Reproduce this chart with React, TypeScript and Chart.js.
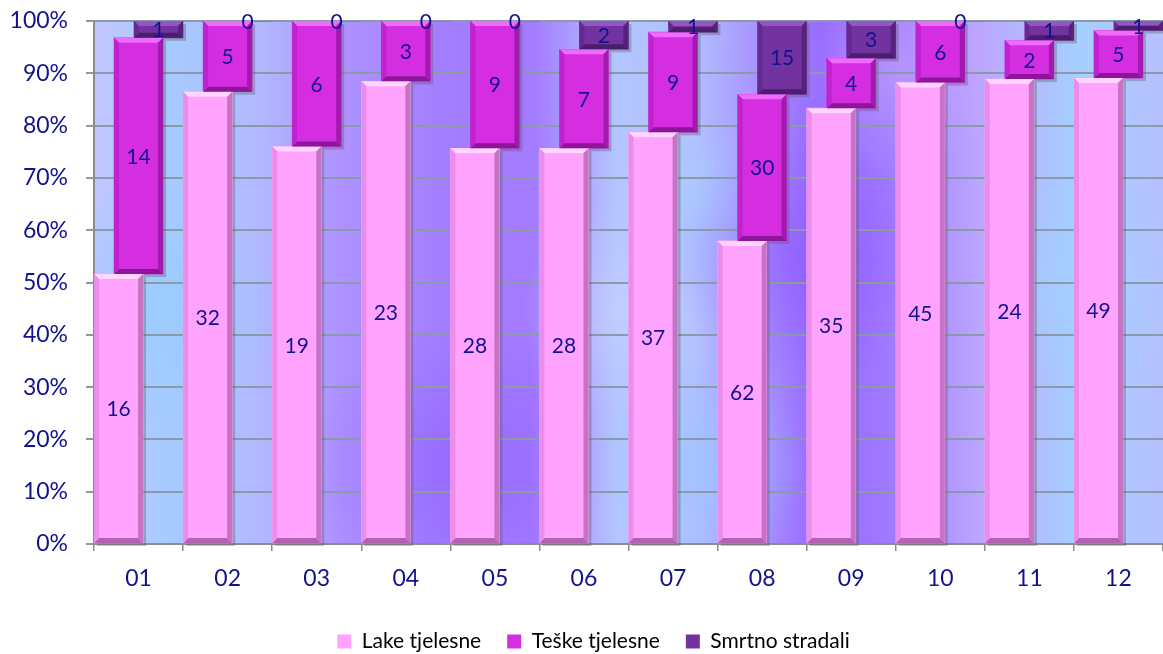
import React, { useEffect, useRef } from 'react';
import { Chart, registerables } from 'chart.js';

Chart.register(...registerables);

const months = ['01', '02', '03', '04', '05', '06', '07', '08', '09', '10', '11', '12'];
const lakeValues = [16, 32, 19, 23, 28, 28, 37, 62, 35, 45, 24, 49];
const teskeValues = [14, 5, 6, 3, 9, 7, 9, 30, 4, 6, 2, 5];
const smrtnoValues = [1, 0, 0, 0, 0, 2, 1, 15, 3, 0, 1, 1];
const seriesNames = ['Lake tjelesne', 'Teške tjelesne', 'Smrtno stradali'];

const W = 1163;
const H = 654;
const FONT = 'Lato, "Open Sans", sans-serif';
const NAVY = '#12128e';

const COLORS = ['#ffa3ff', '#d42ee0', '#7232a0'];
const SHADES = [
  { top: '#ffd6ff', left: '#eb8eeb', right: '#c673c6', bottom: '#b262b2' },
  { top: '#ee6cfb', left: '#c022cf', right: '#a219b0', bottom: '#8e1499' },
  { top: '#9456c4', left: '#642a8f', right: '#55237c', bottom: '#4a1d6d' },
];
const SHIFTS = [-0.224, 0, 0.224];

function poly(ctx: CanvasRenderingContext2D, pts: number[][], color: string) {
  ctx.beginPath();
  ctx.moveTo(pts[0][0], pts[0][1]);
  for (let i = 1; i < pts.length; i++) ctx.lineTo(pts[i][0], pts[i][1]);
  ctx.closePath();
  ctx.fillStyle = color;
  ctx.fill();
}

const bgPlugin = {
  id: 'plotBg',
  afterLayout(chart: any) {
    const lg = chart.legend;
    if (lg) {
      lg.left += 12;
      lg.right += 12;
      lg.top += 8;
      lg.bottom += 8;
    }
  },
  beforeDraw(chart: any) {
    const { ctx, chartArea: a } = chart;
    if (!a || !isFinite(a.left) || !isFinite(a.top)) return;
    const w = a.right - a.left;
    const h = a.bottom - a.top;
    ctx.save();
    ctx.beginPath();
    ctx.rect(a.left, a.top, w, h);
    ctx.clip();
    const g = ctx.createLinearGradient(a.left, 0, a.right, 0);
    const stops: [number, string][] = [
      [0, '#c2c6ff'],
      [0.07, '#a6cbff'],
      [0.15, '#b2baff'],
      [0.23, '#ae92ff'],
      [0.33, '#a37eff'],
      [0.41, '#a47aff'],
      [0.49, '#b4c6ff'],
      [0.56, '#b0c0ff'],
      [0.63, '#a88cff'],
      [0.68, '#9466ff'],
      [0.75, '#a27cff'],
      [0.83, '#bca6ff'],
      [0.92, '#a6cfff'],
      [1, '#b6c0ff'],
    ];
    stops.forEach(([p, c]) => g.addColorStop(p, c));
    ctx.fillStyle = g;
    ctx.fillRect(a.left, a.top, w, h);
    const blobs: [number, number, number, string][] = [
      [0.05, 0.55, 0.12, 'rgba(150,205,255,0.7)'],
      [0.34, 0.85, 0.14, 'rgba(140,90,255,0.55)'],
      [0.5, 0.55, 0.1, 'rgba(200,210,255,0.6)'],
      [0.57, 0.35, 0.08, 'rgba(170,210,255,0.6)'],
      [0.57, 0.85, 0.1, 'rgba(150,200,255,0.55)'],
      [0.66, 0.45, 0.12, 'rgba(140,80,255,0.5)'],
      [0.92, 0.5, 0.1, 'rgba(160,210,255,0.6)'],
      [0.75, 0.1, 0.1, 'rgba(200,170,255,0.5)'],
    ];
    blobs.forEach(([fx, fy, fr, c]) => {
      const cx = a.left + fx * w;
      const cy = a.top + fy * h;
      const r = fr * w;
      const rg = ctx.createRadialGradient(cx, cy, 0, cx, cy, r);
      rg.addColorStop(0, c);
      rg.addColorStop(1, c.replace(/[\d.]+\)$/, '0)'));
      ctx.fillStyle = rg;
      ctx.fillRect(cx - r, cy - r, 2 * r, 2 * r);
    });
    ctx.restore();
  },
};

const barDecor = {
  id: 'barDecor',
  beforeDatasetsDraw(chart: any) {
    const ctx = chart.ctx;
    ctx.save();
    chart.data.datasets.forEach((_ds: any, di: number) => {
      chart.getDatasetMeta(di).data.forEach((el: any) => {
        const { x, y, base, width } = el.getProps(['x', 'y', 'base', 'width'], true);
        const t = Math.min(y, base);
        const b = Math.max(y, base);
        if (b - t < 1) return;
        ctx.fillStyle = 'rgba(90,90,90,0.35)';
        ctx.fillRect(x - width / 2 + 3, t + 3, width, b - t);
      });
    });
    ctx.restore();
  },
  afterDatasetsDraw(chart: any) {
    const ctx = chart.ctx;
    ctx.save();
    const metas: any[] = [];
    chart.data.datasets.forEach((_ds: any, di: number) => {
      const meta = chart.getDatasetMeta(di);
      metas.push(meta);
      const sh = SHADES[di];
      meta.data.forEach((el: any) => {
        const { x, y, base, width } = el.getProps(['x', 'y', 'base', 'width'], true);
        const l = x - width / 2;
        const r = x + width / 2;
        const t = Math.min(y, base);
        const b = Math.max(y, base);
        if (b - t < 1) return;
        const e = Math.min(5, (b - t) / 2);
        poly(ctx, [[l, t], [r, t], [r - e, t + e], [l + e, t + e]], sh.top);
        poly(ctx, [[l, b], [r, b], [r - e, b - e], [l + e, b - e]], sh.bottom);
        poly(ctx, [[l, t], [l + e, t + e], [l + e, b - e], [l, b]], sh.left);
        poly(ctx, [[r, t], [r - e, t + e], [r - e, b - e], [r, b]], sh.right);
      });
    });
    ctx.font = `21px ${FONT}`;
    ctx.fillStyle = NAVY;
    ctx.textAlign = 'center';
    ctx.textBaseline = 'middle';
    chart.data.datasets.forEach((ds: any, di: number) => {
      metas[di].data.forEach((el: any, i: number) => {
        const { x, y, base } = el.getProps(['x', 'y', 'base'], true);
        ctx.fillText(String(ds.rawValues[i]), x, (y + base) / 2 + 1);
      });
    });
    ctx.restore();
  },
};

export default function App() {
  const ref = useRef<HTMLCanvasElement>(null);
  useEffect(() => {
    document.body.style.margin = '0';
    const all = [lakeValues, teskeValues, smrtnoValues];
    const totals = months.map((_m, i) => lakeValues[i] + teskeValues[i] + smrtnoValues[i]);
    const datasets = all.map((vals, si) => {
      const data = vals.map((v, i) => {
        let below = 0;
        for (let k = 0; k < si; k++) below += all[k][i];
        const lo = (below / totals[i]) * 100;
        const hi = ((below + v) / totals[i]) * 100;
        return { x: i + 1 + SHIFTS[si], y: [lo, hi] };
      });
      return {
        label: seriesNames[si],
        data,
        rawValues: vals,
        backgroundColor: COLORS[si],
        borderWidth: 0,
        grouped: false,
        barThickness: 49,
        xAxisID: 'x',
      };
    });
    const chart = new Chart(ref.current as HTMLCanvasElement, {
      type: 'bar',
      data: { labels: months, datasets: datasets as any },
      plugins: [bgPlugin, barDecor],
      options: {
        responsive: false,
        animation: false,
        events: [],
        layout: { padding: { top: 21, right: 0, left: 0, bottom: 0 } },
        plugins: {
          tooltip: { enabled: false },
          legend: {
            position: 'bottom',
            labels: {
              boxWidth: 14,
              boxHeight: 14,
              padding: 26,
              color: '#000',
              font: { family: FONT, size: 21 },
            },
          },
        },
        scales: {
          x: {
            type: 'linear',
            display: false,
            min: 0.5,
            max: 12.5,
            offset: false,
          },
          xc: {
            type: 'category',
            position: 'bottom',
            labels: months,
            offset: true,
            grid: { offset: true, drawOnChartArea: false, tickLength: 7, color: '#8c8c8c', lineWidth: 1.5 },
            border: { display: true, color: '#8c8c8c', width: 2 },
            ticks: { color: NAVY, font: { family: FONT, size: 23 }, padding: 14 },
            afterFit: (s: any) => {
              const lh = s.chart.legend && isFinite(s.chart.legend.height) ? s.chart.legend.height : 42;
              s.height = Math.max(20, H - 544 - lh);
            },
          },
          y: {
            type: 'linear',
            min: 0,
            max: 100,
            ticks: {
              stepSize: 10,
              color: NAVY,
              font: { family: FONT, size: 23 },
              padding: 18,
              callback: (v: any) => `${v}%`,
            },
            grid: { color: '#8a9aab', lineWidth: 2, tickLength: 8 },
            border: { display: true, color: '#8c8c8c', width: 2 },
            afterFit: (s: any) => {
              s.width = 94;
              s.paddingTop = 0;
              s.paddingBottom = 0;
            },
          },
        },
      } as any,
    });
    return () => chart.destroy();
  }, []);
  return (
    <div style={{ position: 'absolute', left: 0, top: 0, width: W, height: H, background: '#fff' }}>
      <canvas ref={ref} width={W} height={H} style={{ width: W, height: H, display: 'block' }} />
    </div>
  );
}
